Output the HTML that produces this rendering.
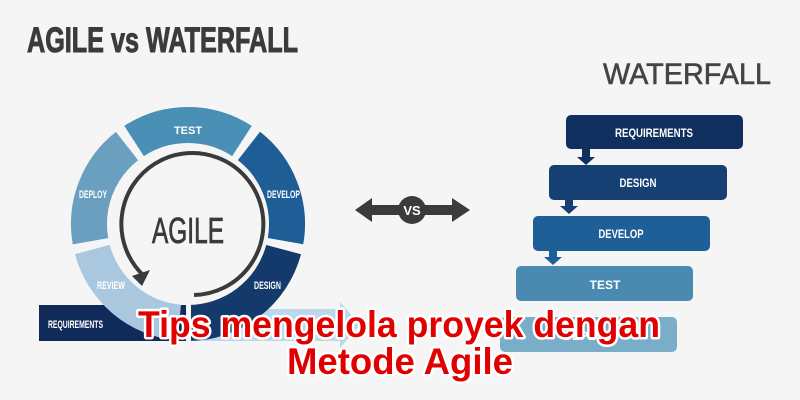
<!DOCTYPE html>
<html><head><meta charset="utf-8"><style>
html,body{margin:0;padding:0;background:#f5f5f5;}
svg{display:block}
.w{font-family:"Liberation Sans",sans-serif;font-weight:bold;fill:#fff;}
</style></head><body>
<svg width="800" height="400" viewBox="0 0 800 400" xmlns="http://www.w3.org/2000/svg">
<rect width="800" height="400" fill="#f5f5f5"/>
<text x="27" y="52" font-family="Liberation Sans,sans-serif" font-weight="bold" font-size="35" fill="#3b3b3b" stroke="#3b3b3b" stroke-width="1" textLength="271" lengthAdjust="spacingAndGlyphs">AGILE vs WATERFALL</text>
<text x="603" y="84" font-family="Liberation Sans,sans-serif" font-size="30" fill="#444" stroke="#444" stroke-width="0.6" textLength="168" lengthAdjust="spacingAndGlyphs">WATERFALL</text>

<!-- requirements bar + arrow -->
<rect x="39" y="305" width="150" height="36" fill="#102a5a"/>
<polygon points="188,309 340,309 340,302 360,325 340,348 340,341 188,341" fill="#bcd8ec"/>
<text class="w" x="48" y="328" font-size="11" textLength="55" lengthAdjust="spacingAndGlyphs">REQUIREMENTS</text>

<!-- ring -->
<g fill="none" stroke-width="36">
<circle cx="188" cy="224" r="99" stroke="#4a8fb5" stroke-dasharray="114 1000" transform="rotate(-123 188 224)"/>
<circle cx="188" cy="224" r="99" stroke="#1f5d96" stroke-dasharray="107 1000" transform="rotate(-52 188 224)"/>
<circle cx="188" cy="224" r="99" stroke="#133a6b" stroke-dasharray="130 1000" transform="rotate(15 188 224)"/>
<circle cx="188" cy="224" r="99" stroke="#a9c8df" stroke-dasharray="121 1000" transform="rotate(95 188 224)"/>
<circle cx="188" cy="224" r="99" stroke="#6a9fc0" stroke-dasharray="107 1000" transform="rotate(170 188 224)"/>
</g>
<rect x="186" y="300" width="5" height="42" fill="#f5f5f5"/>
<text class="w" x="188" y="134" font-size="11" text-anchor="middle">TEST</text>
<text class="w" x="267" y="198" font-size="11" textLength="33" lengthAdjust="spacingAndGlyphs">DEVELOP</text>
<text class="w" x="79" y="198" font-size="11" textLength="28" lengthAdjust="spacingAndGlyphs">DEPLOY</text>
<text class="w" x="97" y="289" font-size="11" fill="#e8f0f6" textLength="28" lengthAdjust="spacingAndGlyphs">REVIEW</text>
<text class="w" x="254" y="289" font-size="11" textLength="27" lengthAdjust="spacingAndGlyphs">DESIGN</text>
<path d="M194,295 A71,71 0 1 0 144,276" fill="none" stroke="#3a3a3a" stroke-width="4"/>
<polygon points="132,276 150,270 142,286" fill="#3a3a3a"/>
<text x="188" y="243" font-family="Liberation Sans,sans-serif" font-size="36" fill="#3a3a3a" stroke="#3a3a3a" stroke-width="0.8" text-anchor="middle" textLength="72" lengthAdjust="spacingAndGlyphs">AGILE</text>

<!-- vs -->
<polygon points="355,210 372,198 372,205 452,205 452,198 470,210 452,222 452,215 372,215 372,222" fill="#3b3b3b"/>
<circle cx="412" cy="210" r="14" fill="#3b3b3b"/>
<text class="w" x="412" y="215" font-size="13" text-anchor="middle">VS</text>

<!-- waterfall -->
<rect x="566" y="115" width="177" height="34" rx="5" fill="#0f2f5e"/>
<rect x="549" y="165" width="178" height="35" rx="5" fill="#163f73"/>
<rect x="533" y="216" width="177" height="35" rx="5" fill="#1f5f98"/>
<rect x="516" y="266" width="177" height="35" rx="5" fill="#4a8ab0"/>
<rect x="500" y="317" width="177" height="35" rx="5" fill="#7aaec8"/>
<g>
<rect x="582" y="149" width="8" height="8" fill="#0f2f5e"/><polygon points="577,157 595,157 586,165" fill="#0f2f5e"/>
<rect x="565" y="200" width="8" height="7" fill="#163f73"/><polygon points="560,206 578,206 569,214" fill="#163f73"/>
<rect x="549" y="251" width="8" height="7" fill="#1f5f98"/><polygon points="544,257 562,257 553,265" fill="#1f5f98"/>
</g>
<text class="w" x="654" y="137" font-size="12" text-anchor="middle" textLength="78" lengthAdjust="spacingAndGlyphs">REQUIREMENTS</text>
<text class="w" x="638" y="187" font-size="12" text-anchor="middle" textLength="37" lengthAdjust="spacingAndGlyphs">DESIGN</text>
<text class="w" x="621" y="238" font-size="12" text-anchor="middle" textLength="45" lengthAdjust="spacingAndGlyphs">DEVELOP</text>
<text class="w" x="605" y="289" font-size="12" text-anchor="middle">TEST</text>
<text class="w" x="588" y="340" font-size="12" text-anchor="middle" fill="#dde9f1">DEPLOY</text>

<!-- overlay -->
<g font-family="Liberation Sans,sans-serif" font-weight="bold" font-size="37" fill="#e00000" stroke="#ffffff" stroke-width="5" paint-order="stroke" stroke-linejoin="round">
<text x="138" y="337" textLength="522" lengthAdjust="spacingAndGlyphs">Tips mengelola proyek dengan</text>
<text x="287" y="374" textLength="226" lengthAdjust="spacingAndGlyphs">Metode Agile</text>
</g>
</svg>
</body></html>
